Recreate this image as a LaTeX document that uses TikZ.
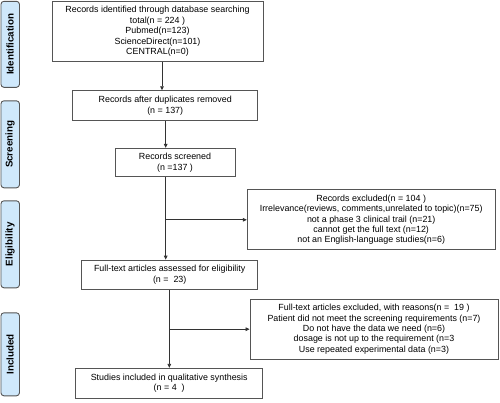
\documentclass[tikz,border=0pt]{standalone}
\usepackage{fontspec}
\setmainfont{Liberation Sans}
\usetikzlibrary{arrows.meta,calc}
\definecolor{sidefill}{HTML}{CFE8FB}
\definecolor{sideline}{HTML}{555555}
\definecolor{boxline}{HTML}{555555}
\tikzset{
  box/.style={draw=boxline, line width=0.8pt, fill=white, inner sep=0pt, align=center,
    font=\fontsize{8.9}{10.4}\selectfont},
  side/.style={draw=sideline, line width=0.9pt, fill=sidefill, rounded corners=3pt, inner sep=0pt,
    rotate=90, font=\bfseries\fontsize{9.8}{10}\selectfont},
  arr/.style={draw=black!80, line width=0.7pt, -{Triangle[length=4pt,width=3.6pt]}}
}
\begin{document}
\begin{tikzpicture}[x=1pt,y=-1pt]
\useasboundingbox (0,0) rectangle (500,402);
% side bars
\node[side, minimum width=86pt, minimum height=18.5pt] (s1) at (10.2,44.3) {Identification};
\node[side, minimum width=87pt, minimum height=18.5pt] (s2) at (10.2,144.3) {Screening};
\node[side, minimum width=87pt, minimum height=18.5pt] (s3) at (10.2,244.3) {Eligibility};
\node[side, minimum width=83pt, minimum height=18.5pt] (s4) at (10.2,354.3) {Included};
% boxes
\node[box, minimum width=211pt, minimum height=60pt] (b1) at (157.5,31.3)
  {Records identified through database searching\\ total(n = 224 )\\ Pubmed(n=123)\\ ScienceDirect(n=101)\\ CENTRAL(n=0)};
\node[box, minimum width=185pt, minimum height=30pt] (b2) at (165.2,105.7)
  {Records after duplicates removed\\ (n = 137)};
\node[box, minimum width=120pt, minimum height=28.5pt] (b3) at (175,162.5)
  {Records screened\\ (n =137 )};
\node[box, minimum width=248pt, minimum height=60pt] (b4) at (371.2,219.8)
  {Records excluded(n = 104 )\\ Irrelevance(reviews, comments,unrelated to topic)(n=75)\\ not a phase 3 clinical trail (n=21)\\ cannot get the full text (n=12)\\ not an English-language studies(n=6)};
\node[box, minimum width=176pt, minimum height=29.3pt] (b5) at (169.7,274.7)
  {Full-text articles assessed for eligibility\\ (n =~ 23)};
\node[box, minimum width=248pt, minimum height=60.3pt] (b6) at (374,329.2)
  {Full-text articles excluded, with reasons(n =~ 19 )\\ Patient did not meet the screening requirements (n=7)\\ Do not have the data we need (n=6)\\ dosage is not up to the requirement (n=3\\ Use repeated experimental data (n=3)};
\node[box, minimum width=187pt, minimum height=30pt] (b7) at (169.2,383.3)
  {Studies included in qualitative synthesis\\ (n = 4~ )};
% arrow x positions
\coordinate (x1) at (162,0);
\coordinate (x2) at (165.7,0);
\coordinate (x3) at (169.3,0);
\coordinate (j1) at (165.7,219.8);
\coordinate (j2) at (169.3,329.2);
% connectors
\draw[arr] (b1.south -| x1) -- (b2.north -| x1);
\draw[arr] (b2.south -| x2) -- (b3.north -| x2);
\draw[arr] (b3.south -| x2) -- (b5.north -| x2);
\draw[arr] (j1) -- (b4.west);
\draw[arr] (b5.south -| x3) -- (b7.north -| x3);
\draw[arr] (j2) -- (b6.west);
\end{tikzpicture}
\end{document}
